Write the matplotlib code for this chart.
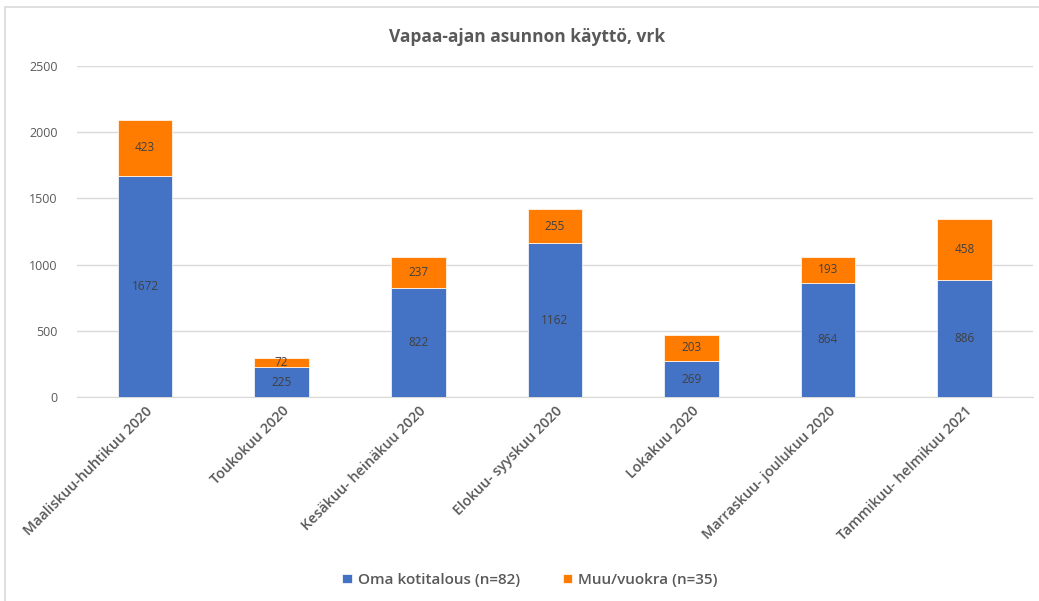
import matplotlib
matplotlib.use("Agg")
import matplotlib.pyplot as plt
from matplotlib.patches import Rectangle
import numpy as np

categories = ["Maaliskuu-huhtikuu 2020", "Toukokuu 2020", "Kesäkuu- heinäkuu 2020",
              "Elokuu- syyskuu 2020", "Lokakuu 2020", "Marraskuu- joulukuu 2020",
              "Tammikuu- helmikuu 2021"]
oma = [1672, 225, 822, 1162, 269, 864, 886]
muu = [423, 72, 237, 255, 203, 193, 458]
series_names = ["Oma kotitalous (n=82)", "Muu/vuokra (n=35)"]
title = "Vapaa-ajan asunnon käyttö, vrk"
yticks = [0, 500, 1000, 1500, 2000, 2500]

plt.rcParams['font.family'] = ['Open Sans', 'DejaVu Sans']
blue = "#4472C4"
orange = "#FF7C00"
txt = "#595959"

fig = plt.figure(figsize=(10.39, 6.01), dpi=100)
fig.patches.append(Rectangle((0.005, -0.01), 1.0, 0.998, transform=fig.transFigure,
                             fill=False, edgecolor="#D9D9D9", linewidth=1.2))
ax = fig.add_axes([0.074, 0.3394, 0.920, 0.5506])

x = np.arange(len(categories))
w = 0.4
b1 = ax.bar(x, oma, width=w, color=blue, edgecolor="white", linewidth=0.5, zorder=3)
b2 = ax.bar(x, muu, width=w, bottom=oma, color=orange, edgecolor="white", linewidth=0.5, zorder=3)

for i in range(len(categories)):
    ax.text(x[i], oma[i] / 2, str(oma[i]), ha="center", va="center", fontsize=8.5,
            color="#404040", zorder=4)
    ax.text(x[i], oma[i] + muu[i] / 2, str(muu[i]), ha="center", va="center", fontsize=8.5,
            color="#404040", zorder=4)

ax.set_xlim(-0.5, len(categories) - 0.5)
ax.set_ylim(0, 2500)
ax.set_yticks(yticks)
ax.yaxis.grid(True, color="#D9D9D9", linewidth=1.0, zorder=0)
ax.set_axisbelow(True)
for s in ["top", "right", "left"]:
    ax.spines[s].set_visible(False)
ax.spines["bottom"].set_color("#D9D9D9")
ax.tick_params(axis="both", length=0, colors=txt, labelsize=9)
ax.tick_params(axis="y", pad=14)
ax.tick_params(axis="x", labelsize=10.3, pad=5)
ax.set_xticks(x)
ax.set_xticklabels(categories, rotation=45, ha="right", rotation_mode="anchor",
                   fontweight="semibold")

fig.text(0.507, 0.938, title, ha="center", va="center", fontsize=12.5,
         fontweight="bold", color=txt)

fig.legend([b1, b2], series_names, loc="center", bbox_to_anchor=(0.51, 0.035), ncol=2,
           frameon=False, prop={"size": 11, "weight": "semibold"}, handlelength=0.6,
           handleheight=0.6, columnspacing=2.8, handletextpad=0.4, labelcolor=txt)

fig.savefig("out.png", dpi=100)
